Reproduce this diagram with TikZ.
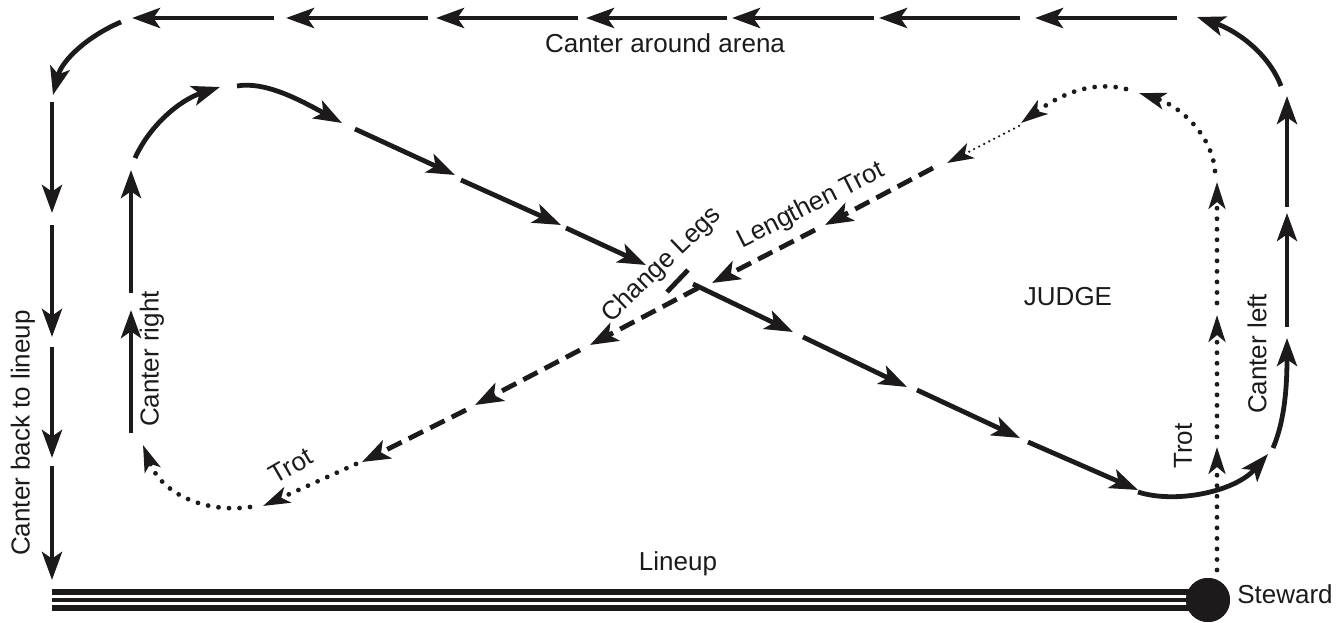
\documentclass[tikz,border=0pt]{standalone}
\usepackage{fontspec}
\setmainfont{Liberation Sans}
\usetikzlibrary{arrows.meta}
\definecolor{ink}{HTML}{1C1A1B}
\newcommand{\lblfont}{\fontsize{19.5}{23}\selectfont}
\tikzset{
  tipbig/.tip={Stealth[length=21pt,width=15pt,inset=5pt]},
  tipdot/.tip={Stealth[length=20pt,width=12.5pt,inset=5pt]},
  solidarrow/.style={draw=ink, line width=3.6pt, -tipbig},
  plainline/.style={draw=ink, line width=3.6pt},
  dashedarrow/.style={draw=ink, line width=3.6pt, dash pattern=on 12pt off 6pt, -tipbig},
  dottedarrow/.style={draw=ink, line width=3.6pt, line cap=round, dash pattern=on 0pt off 7.9pt, -tipdot},
  finedotted/.style={draw=ink, line width=1.9pt, line cap=round, dash pattern=on 0pt off 4.2pt, -tipdot},
  txt/.style={text=ink, font=\lblfont, inner sep=0pt}
}
\begin{document}
\begin{tikzpicture}[x=0.75pt,y=-0.75pt]
\useasboundingbox (0,0) rectangle (1337,623);

% ---------- outer route: canter around arena ----------
\draw[solidarrow] (1281,86) .. controls (1268,52) and (1235,30) .. (1197,17);
\draw[solidarrow] (1177,18) -- (1035,18);
\draw[solidarrow] (1020,18) -- (879,18);
\draw[solidarrow] (874,18) -- (732,18);
\draw[solidarrow] (727,18) -- (586,18);
\draw[solidarrow] (578,18) -- (436,18);
\draw[solidarrow] (428,18) -- (286,18);
\draw[solidarrow] (274,18) -- (132,18);
\draw[solidarrow] (121,22) .. controls (88,36) and (62,60) .. (53,95);
% left side down to lineup
\draw[solidarrow] (52,102) -- (52,213);
\draw[solidarrow] (52,225) -- (52,337);
\draw[solidarrow] (52,347) -- (52,458);
\draw[solidarrow] (52,466) -- (52,580);

% ---------- lineup ----------
\node[circle, fill=ink, minimum size=33pt, inner sep=0pt] (steward) at (1208,600) {};
\coordinate (lineL1) at (52,592.2);
\coordinate (lineL2) at (52,600);
\coordinate (lineL3) at (52,607.8);
\draw[ink, line width=4.3pt] (lineL1) -- (steward.center |- lineL1);
\draw[ink, line width=2.5pt] (lineL2) -- (steward.center |- lineL2);
\draw[ink, line width=4.3pt] (lineL3) -- (steward.center |- lineL3);
\node[circle, fill=ink, minimum size=33pt, inner sep=0pt] at (steward) {};

% ---------- trot from steward up the right ----------
\draw[dottedarrow] (1217,570) -- (1217,447);
\draw[dottedarrow] (1217,437) -- (1217,315);
\draw[dottedarrow] (1217,303) -- (1217,182);
\draw[dottedarrow] (1215,171) .. controls (1212,135) and (1180,106) .. (1139,93);
\draw[dottedarrow] (1126,89) .. controls (1090,80) and (1058,96) .. (1021,123);
\draw[finedotted] (1019,126) -- (947,163);
% lengthen trot (dashed)
\draw[dashedarrow] (933,168) -- (825,225);
\draw[dashedarrow] (815,230) -- (712,283);
\draw[dashedarrow] (698,288) -- (590,345);
\draw[dashedarrow] (580,350) -- (475,405);
\draw[dashedarrow] (466,410) -- (362,462);
% trot to canter right
\draw[dottedarrow] (356,464) -- (263,506);
\draw[dottedarrow] (250,507) .. controls (210,513) and (163,497) .. (143,445);

% ---------- canter right / figure eight ----------
\draw[solidarrow] (131,433) -- (131,310);
\draw[solidarrow] (131,293) -- (131,170);
\draw[solidarrow] (135,158) .. controls (150,125) and (180,100) .. (220,87);
\draw[solidarrow] (237,86) .. controls (265,81) and (300,100) .. (342,123);
\draw[solidarrow] (355,129) -- (455,175);
\draw[solidarrow] (461,180) -- (561,225);
\draw[solidarrow] (566,228) -- (646,265);
\draw[plainline] (667,292) -- (688,270);
\draw[solidarrow] (693,284) -- (793,332);
\draw[solidarrow] (803,337) -- (907,387);
\draw[solidarrow] (917,390) -- (1020,438);
\draw[solidarrow] (1028,442) -- (1138,490);
\draw[solidarrow] (1138,492) .. controls (1175,504) and (1235,492) .. (1268,454);
\draw[solidarrow] (1273,448) .. controls (1285,420) and (1287,385) .. (1287,338);
\draw[solidarrow] (1287,327) -- (1287,213);
\draw[solidarrow] (1287,207) -- (1287,96);

% ---------- labels ----------
\node[txt] (arena) at (665,43) {Canter around arena};
\node[txt] (lineup) at (678,564) {Lineup};
\node[txt] (judge) at (1068,297) {JUDGE};
\node[txt, anchor=west] (stewardlbl) at (1237,594) {Steward};
\node[txt, rotate=90] (backlbl) at (23,433) {Canter back to lineup};
\node[txt, rotate=90] (rightlbl) at (152,359) {Canter right};
\node[txt, rotate=90] (leftlbl) at (1257,354) {Canter left};
\node[txt, rotate=90] (trotR) at (1183,446) {Trot};
\node[txt, rotate=30] (trotL) at (291,466) {Trot};
\node[txt, rotate=44] (legs) at (662,265) {Change Legs};
\node[txt, rotate=27] (lengthen) at (811,206) {Lengthen Trot};
\end{tikzpicture}
\end{document}
